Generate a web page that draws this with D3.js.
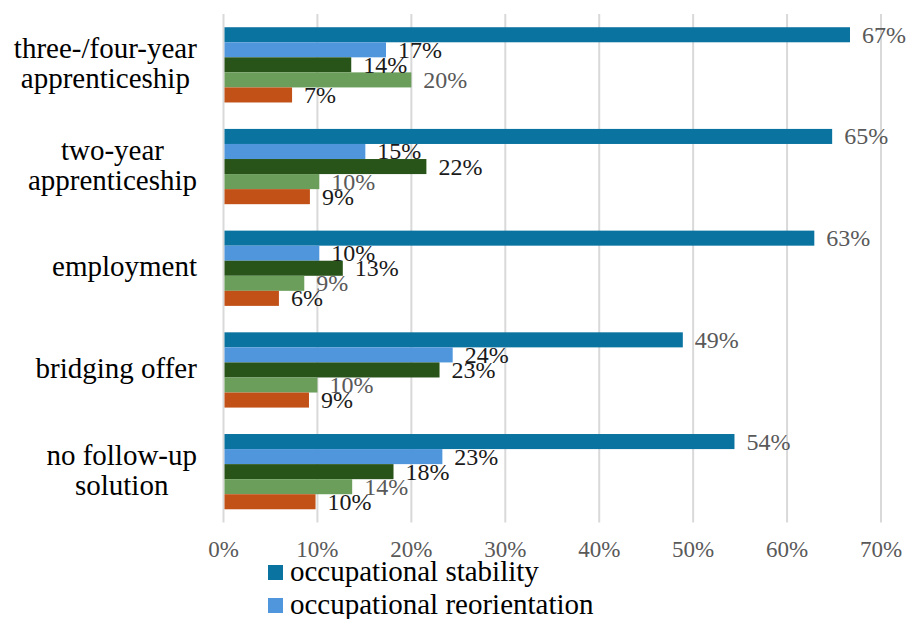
<!DOCTYPE html>
<html lang="en">
<head>
<meta charset="UTF-8">
<title>Occupational stability by follow-up solution</title>
<script src="https://cdn.jsdelivr.net/npm/d3@7"></script>
<style>
    body { margin: 0; background: #fff; font-family: "Liberation Serif", serif; }
</style>
</head>
<body>
<script>

    var categories = [
        ["three-/four-year", "apprenticeship"],
        ["two-year", "apprenticeship"],
        ["employment"],
        ["bridging offer"],
        ["no follow-up", "solution"]
    ];

    // one array per series, in category order (percent)
    var stability     = [66.7, 64.8, 62.9, 48.9, 54.4];
    var reorientation = [17.3, 15.1, 10.2, 24.4, 23.3];
    var series3       = [13.6, 21.6, 12.7, 23.0, 18.1];
    var series4       = [20.0, 10.2, 8.6, 10.0, 13.7];
    var series5       = [7.3, 9.2, 5.9, 9.1, 9.8];

    var seriesValues = [stability, reorientation, series3, series4, series5];
    var legendNames = ["occupational stability", "occupational reorientation"];
    var colors = ["#0b73a0", "#4f96dc", "#285419", "#6a9e5a", "#c25117"];
    var labelColors = ["#595959", "#1a1a1a", "#1a1a1a", "#595959", "#1a1a1a"];

    var xTicks = [0, 10, 20, 30, 40, 50, 60, 70];

    var width = 909, height = 619;
    var plot = {left: 223.5, right: 881, top: 14, bottom: 522.5};

    var svg = d3.select("body").append("svg")
            .attr("width", width)
            .attr("height", height)
            .attr("font-family", "Liberation Serif");

    svg.append("style")
            .text("text, tspan { font-family: 'Liberation Serif', 'Times New Roman', serif; }");

    var x = d3.scaleLinear()
            .domain([0, 70])
            .range([plot.left, plot.right]);

    var y = d3.scaleBand()
            .domain(d3.range(categories.length))
            .range([plot.top, plot.bottom])
            .paddingInner(0.26)
            .paddingOuter(0.13);

    var ySub = d3.scaleBand()
            .domain(d3.range(seriesValues.length))
            .range([0, y.bandwidth()]);

    //gridlines
    svg.append("g")
            .selectAll("line")
            .data(xTicks)
            .enter()
            .append("line")
            .attr("x1", function (d) { return x(d); })
            .attr("x2", function (d) { return x(d); })
            .attr("y1", plot.top)
            .attr("y2", plot.bottom)
            .attr("stroke", "#d9d9d9")
            .attr("stroke-width", 2);

    //tick labels
    svg.append("g")
            .selectAll("text")
            .data(xTicks)
            .enter()
            .append("text")
            .attr("x", function (d) { return x(d); })
            .attr("y", 557)
            .attr("text-anchor", "middle")
            .attr("font-size", 23)
            .attr("fill", "#595959")
            .text(function (d) { return d + "%"; });

    //category labels, centred lines in a right aligned block
    var catGroup = svg.append("g")
            .selectAll("text")
            .data(categories)
            .enter()
            .append("text")
            .attr("font-size", 29)
            .attr("fill", "#000");

    catGroup.each(function (lines, i) {
        var t = d3.select(this);
        var lineH = 30;
        var cy = y(i) + y.bandwidth() / 2;
        var y0 = cy - (lines.length - 1) * lineH / 2 + 8;
        t.selectAll("tspan")
                .data(lines)
                .enter()
                .append("tspan")
                .attr("x", 0)
                .attr("y", function (d, j) { return y0 + j * lineH; })
                .attr("text-anchor", "middle")
                .text(function (d) { return d; });
        var box = this.getBBox();
        t.selectAll("tspan").attr("x", 197 - box.width / 2);
    });

    //bars
    var groups = svg.append("g")
            .selectAll("g")
            .data(seriesValues)
            .enter()
            .append("g")
            .attr("fill", function (d, s) { return colors[s]; });

    groups.selectAll("rect")
            .data(function (d, s) { return d.map(function (v, i) { return {v: v, i: i, s: s}; }); })
            .enter()
            .append("rect")
            .attr("x", x(0) + 1)
            .attr("y", function (d) { return y(d.i) + ySub(d.s); })
            .attr("width", function (d) { return x(d.v) - x(0) - 1; })
            .attr("height", ySub.bandwidth());

    //value labels
    var labels = svg.append("g");
    seriesValues.forEach(function (vals, s) {
        labels.selectAll(null)
                .data(vals.map(function (v, i) { return {v: v, i: i}; }))
                .enter()
                .append("text")
                .attr("x", function (d) { return x(d.v) + 12; })
                .attr("y", function (d) { return y(d.i) + ySub(s) + ySub.bandwidth() / 2 + 8; })
                .attr("font-size", 24)
                .attr("fill", labelColors[s])
                .text(function (d) { return Math.round(d.v) + "%"; });
    });

    //legend
    var legend = svg.append("g")
            .selectAll("g")
            .data(legendNames)
            .enter()
            .append("g")
            .attr("transform", function (d, i) { return "translate(268," + (565 + i * 33) + ")"; });

    legend.append("rect")
            .attr("width", 15)
            .attr("height", 15)
            .attr("fill", function (d, i) { return colors[i]; });

    legend.append("text")
            .attr("x", 22)
            .attr("y", 16)
            .attr("font-size", 29)
            .attr("fill", "#000")
            .text(function (d) { return d; });

</script>
</body>
</html>
